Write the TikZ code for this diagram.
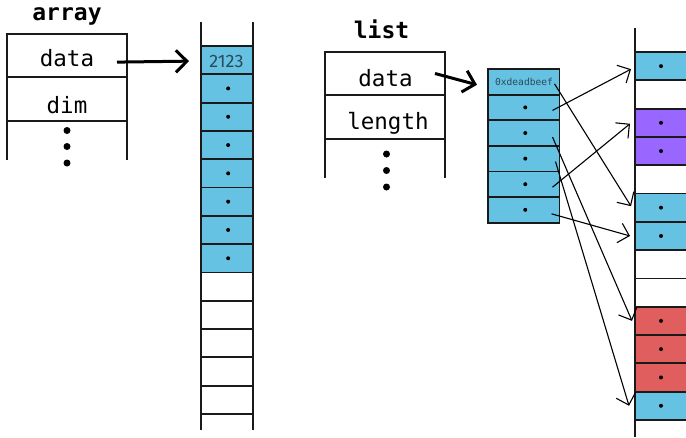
\documentclass[tikz,border=0pt]{standalone}
\usepackage{fontspec}
\setmainfont{Fira Sans}
\setmonofont{DejaVu Sans Mono}
\usetikzlibrary{arrows.meta}
\definecolor{cellblue}{HTML}{66C2E2}
\definecolor{cellpurple}{HTML}{9966FF}
\definecolor{cellred}{HTML}{E05E5E}
\definecolor{linec}{HTML}{1A1A1A}
\definecolor{addrc}{HTML}{2C4A5A}
\tikzset{
  field/.style={draw=linec, line width=1.8pt, minimum width=120pt, minimum height=43.5pt, inner sep=0pt, outer sep=0pt},
  fieldtext/.style={anchor=base, inner sep=0pt, font=\ttfamily\fontsize{22.5}{22.5}\selectfont},
  title/.style={anchor=base, inner sep=0pt, font=\ttfamily\bfseries\fontsize{23}{23}\selectfont},
  acell/.style={draw=linec, line width=1.8pt, minimum width=52.3pt, minimum height=28.3pt, inner sep=0pt, outer sep=0pt},
  lcell/.style={draw=linec, line width=1.8pt, fill=cellblue, minimum width=71.5pt, minimum height=25.6pt, inner sep=0pt, outer sep=0pt},
  rcell/.style={draw=linec, line width=1.8pt, minimum width=64pt, minimum height=28.3pt, inner sep=0pt, outer sep=0pt},
  colline/.style={draw=linec, line width=1.8pt},
  bigdot/.style={circle, fill=black, minimum size=7pt, inner sep=0pt},
  smalldot/.style={circle, fill=black, minimum size=4pt, inner sep=0pt},
  thickptr/.style={line width=3pt, -{Straight Barb[length=11pt,width=22pt]}},
  ptr/.style={line width=1.1pt, -{Straight Barb[length=10pt,width=20pt]}},
}
\begin{document}
\begin{tikzpicture}[x=1pt,y=-1pt]
\useasboundingbox (0,0) rectangle (686,437);
\clip (0,0) rectangle (686,437);

% ---------- array struct ----------
\node[title] (tarray) at (67,20) {array};
\node[field] (adata) at (67,55.6) {};
\node[field] (adim) at (67,99.1) {};
\node[fieldtext] (adatat) at (67,66.5) {data};
\node[fieldtext] (adimt) at (67,113.3) {dim};
\draw[colline] (adim.south west) -- ++(0,39);
\draw[colline] (adim.south east) -- ++(0,39);
\node[bigdot] (ad1) at (67,130.5) {};
\node[bigdot] (ad2) at (67,146.5) {};
\node[bigdot] (ad3) at (67,163) {};

% ---------- array storage column ----------
\draw[colline] (201,22) -- (201,430);
\draw[colline] (253.3,22) -- (253.3,430);
\foreach \k in {0,...,12} {
  \ifnum\k<8
    \node[acell, fill=cellblue] (a\k) at (227.15,{46+28.3*\k+14.15}) {};
  \else
    \node[acell, fill=white] (a\k) at (227.15,{46+28.3*\k+14.15}) {};
  \fi
}
\node[inner sep=0pt, font=\fontsize{18}{18}\selectfont, text=addrc] (a0t) at (226.5,61.3) {2123};
\foreach \k in {1,...,7} {
  \node[smalldot] (adot\k) at ([xshift=1pt]a\k.center) {};
}

\draw[thickptr] ([xshift=-10pt,yshift=-6.5pt]adata.east) -- ([xshift=-12pt,yshift=-1pt]a0.west);

% ---------- list struct ----------
\node[title] (tlist) at (381.5,38) {list};
\node[field] (ldata) at (385,73.5) {};
\node[field] (llen) at (385,117.2) {};
\node[fieldtext] (ldatat) at (385.5,86) {data};
\node[fieldtext] (llent) at (388,129.5) {length};
\draw[colline] (llen.south west) -- ++(0,38.7);
\draw[colline] (llen.south east) -- ++(0,38.7);
\node[bigdot] (ld1) at (386.5,154) {};
\node[bigdot] (ld2) at (386.5,170.5) {};
\node[bigdot] (ld3) at (386.5,187) {};

% ---------- list pointer array ----------
\foreach \k in {0,...,5} {
  \node[lcell] (l\k) at (523.75,{69+25.6*\k+12.8}) {};
}
\node[inner sep=0pt, font=\ttfamily\fontsize{9.6}{9.6}\selectfont, text=addrc] (l0t) at (524,82) {0xdeadbeef};
\foreach \k in {1,...,5} {
  \node[smalldot] (ldot\k) at ([xshift=1.5pt]l\k.center) {};
}

\draw[thickptr] ([xshift=-10pt]ldata.east) -- ([xshift=-11pt,yshift=-3pt]l0.west);

% ---------- heap column ----------
\draw[colline] (635,28) -- (635,437);
\foreach \k/\c in {0/cellblue,1/white,2/cellpurple,3/cellpurple,4/white,5/cellblue,6/cellblue,7/white,8/white,9/cellred,10/cellred,11/cellred,12/cellblue} {
  \node[rcell, fill=\c] (r\k) at (667,{52+28.3*\k+14.15}) {};
}
\foreach \k in {0,2,3,5,6,9,10,11,12} {
  \node[smalldot] (rdot\k) at ([xshift=-6pt]r\k.center) {};
}

% ---------- pointers ----------
\draw[ptr] ([xshift=-5pt,yshift=-2pt]l0.east) -- ([xshift=-4pt,yshift=1.5pt]r5.west);
\draw[ptr] ([xshift=-7pt,yshift=-3pt]l1.east) -- ([xshift=-4pt,yshift=-3pt]r0.west);
\draw[ptr] ([xshift=-7pt,yshift=-4pt]l2.east) -- ([xshift=-3pt]r9.west);
\draw[ptr] ([xshift=-4pt,yshift=-3pt]l3.east) -- ([xshift=-6pt]r12.west);
\draw[ptr] ([xshift=-7pt,yshift=-3pt]l4.east) -- ([xshift=-5pt,yshift=-1pt]r2.west);
\draw[ptr] ([xshift=-8pt,yshift=-4pt]l5.east) -- ([xshift=-5pt]r6.west);
\end{tikzpicture}
\end{document}
